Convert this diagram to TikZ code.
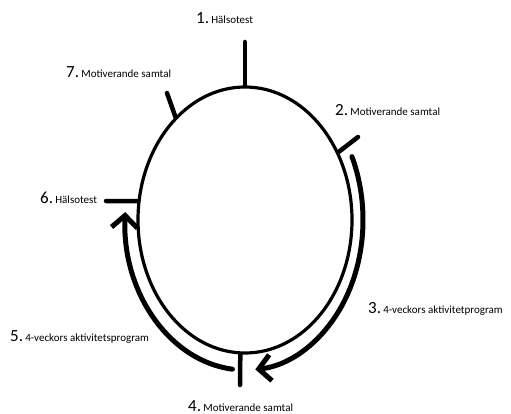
\documentclass[tikz,border=0pt]{standalone}
\usepackage{fontspec}
\setmainfont{Carlito}
\usepackage{tikz}
\usetikzlibrary{
  arrows.meta, positioning, shapes.geometric, calc
}

\newcommand{\stepno}[1]{{\fontsize{17}{17}\selectfont #1.}}
\newcommand{\steptxt}[1]{{\fontsize{11}{11}\selectfont #1}}

\begin{document}
\begin{tikzpicture}[x=1pt, y=1pt,
    cycleline/.style={line width=3.2pt},
    tickline/.style={line width=4.5pt, line cap=round},
    flowarrow/.style={line width=5pt, line cap=round,
      -{Straight Barb[length=12pt, width=26pt]}},
    steplabel/.style={anchor=base west, inner sep=0pt}
  ]
  \path[use as bounding box] (0,0) rectangle (511,-414);

  \node[ellipse, draw, cycleline, inner sep=0pt,
        minimum width=214pt, minimum height=266pt] (cycle) at (245,-220) {};

  % tick ends
  \coordinate (t1) at (245,-42);
  \coordinate (t2) at (358,-137);
  \coordinate (t4) at (240,-385);
  \coordinate (t6) at (106,-201);
  \coordinate (t7) at (167,-93);

  \draw[tickline] (cycle.north) -- (t1);
  \draw[tickline] (cycle.36) -- (t2);
  \draw[tickline] (cycle.268) -- (t4);
  \draw[tickline] (cycle.170) -- (t6);
  \draw[tickline] (cycle.124) -- (t7);

  % labels
  \node[steplabel] (l1) at (196,-24) {\stepno{1}~\steptxt{Hälsotest}};
  \node[steplabel] (l2) at (335,-116) {\stepno{2}~\steptxt{Motiverande samtal}};
  \node[steplabel] (l3) at (368,-313) {\stepno{3}~\steptxt{4-veckors aktivitetprogram}};
  \node[steplabel] (l4) at (188,-411) {\stepno{4}~\steptxt{Motiverande samtal}};
  \node[steplabel] (l5) at (10,-341) {\stepno{5}~\steptxt{4-veckors aktivitetsprogram}};
  \node[steplabel] (l6) at (40,-204) {\stepno{6}~\steptxt{Hälsotest}};
  \node[steplabel] (l7) at (66,-78) {\stepno{7}~\steptxt{Motiverande samtal}};

  % arrows
  \coordinate (a3) at ($(cycle.center)+(25:118 and 150)$);
  \coordinate (a5) at ($(cycle.center)+(-96:120 and 150)$);
  \draw[flowarrow] (a3) arc[start angle=25, end angle=-85, x radius=118, y radius=150];
  \draw[flowarrow] (a5) arc[start angle=-96, end angle=-183, x radius=120, y radius=150];
\end{tikzpicture}
\end{document}
